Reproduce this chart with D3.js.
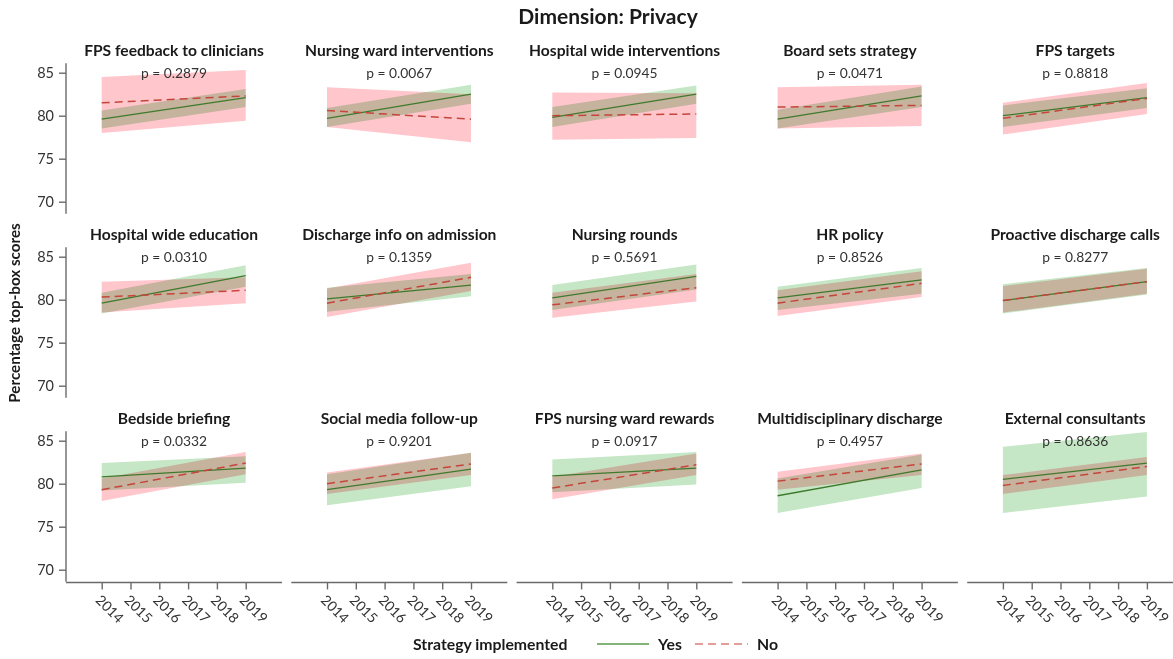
<!DOCTYPE html>
<html>
<head>
<meta charset="utf-8">
<script src="https://cdn.jsdelivr.net/npm/d3@7"></script>
<style>
  html, body { margin: 0; padding: 0; background: #fff; }
  svg { display: block; font-family: Lato, "Open Sans", sans-serif; }
  .band { mix-blend-mode: multiply; }
</style>
</head>
<body>
<svg id="chart" width="1173" height="659"></svg>
<script>
// Fitted trend (2014 -> 2019) of percentage top-box scores, Privacy dimension
const years = [2014, 2015, 2016, 2017, 2018, 2019];
const fitYears = [2014, 2019];
const yTicks = [70, 75, 80, 85];

const strategies = [
  "FPS feedback to clinicians", "Nursing ward interventions", "Hospital wide interventions",
  "Board sets strategy", "FPS targets",
  "Hospital wide education", "Discharge info on admission", "Nursing rounds",
  "HR policy", "Proactive discharge calls",
  "Bedside briefing", "Social media follow-up", "FPS nursing ward rewards",
  "Multidisciplinary discharge", "External consultants"
];
const pValues = ["0.2879", "0.0067", "0.0945", "0.0471", "0.8818",
                 "0.0310", "0.1359", "0.5691", "0.8526", "0.8277",
                 "0.0332", "0.9201", "0.0917", "0.4957", "0.8636"];

// Strategy implemented: Yes  (fit, lower and upper 95% bound at 2014 and 2019)
const yesFit = [[79.6,82.1],[79.7,82.5],[79.8,82.5],[79.6,82.3],[80.0,82.1],
                [79.6,82.8],[80.1,81.7],[80.2,82.7],[80.2,82.3],[79.9,82.1],
                [80.8,81.8],[79.3,81.7],[80.9,81.8],[78.6,81.6],[80.5,82.4]];
const yesLower = [[78.5,81.0],[78.7,81.4],[78.7,81.4],[78.5,81.0],[78.7,80.9],
                  [78.4,81.5],[78.6,80.4],[78.8,81.2],[78.8,80.7],[78.4,80.6],
                  [79.2,80.1],[77.5,79.7],[79.0,79.9],[76.6,79.5],[76.6,78.5]];
const yesUpper = [[80.6,83.1],[80.9,83.6],[81.0,83.5],[80.7,83.4],[81.2,83.2],
                  [80.8,84.0],[81.4,83.0],[81.7,84.1],[81.5,83.7],[81.8,83.7],
                  [82.4,83.2],[81.1,83.6],[82.8,83.7],[80.6,83.4],[84.3,86.0]];

// Strategy implemented: No
const noFit = [[81.5,82.3],[80.6,79.6],[80.0,80.2],[81.0,81.2],[79.7,82.0],
               [80.3,81.1],[79.6,82.6],[79.4,81.4],[79.6,81.9],[79.9,82.1],
               [79.3,82.4],[80.0,82.3],[79.5,82.2],[80.3,82.3],[79.8,82.0]];
const noLower = [[78.0,79.4],[78.7,76.9],[77.2,77.4],[78.5,78.8],[77.8,80.2],
                 [78.5,79.6],[78.0,81.0],[77.9,79.8],[78.1,80.3],[78.5,80.7],
                 [78.0,81.1],[78.8,81.0],[78.2,81.0],[79.3,81.0],[78.8,81.0]];
const noUpper = [[84.5,85.3],[83.3,82.5],[82.7,82.6],[83.3,83.6],[81.5,83.8],
                 [82.1,82.6],[81.3,84.3],[80.8,83.0],[81.1,83.3],[81.6,83.6],
                 [80.6,83.7],[81.3,83.6],[80.8,83.5],[81.4,83.5],[81.0,83.1]];

const nCols = 5, nRows = 3;
const colStep = 225.3, rowStep = 184;
const panelLeft = 66, panelWidth = 216;
const yearLeft = 35.7, yearRight = 179.7;
const topRow85 = 72.7, pxSpan = 129;

const colors = {
  yesLine: "#3f7a2c", yesBand: "#c6e7c6",
  noLine: "#c4463a", noBand: "#ffc6cc",
  axis: "#6a6a6a", text: "#1a1a1a", tick: "#333"
};

const svg = d3.select("#chart");

svg.append("text")
  .attr("x", 608).attr("y", 24)
  .attr("text-anchor", "middle")
  .attr("font-size", 21).attr("font-weight", 700).attr("fill", colors.text)
  .text("Dimension: Privacy");

svg.append("text")
  .attr("transform", "translate(20,313) rotate(-90)")
  .attr("text-anchor", "middle")
  .attr("font-size", 15.2).attr("font-weight", 700).attr("fill", colors.text)
  .text("Percentage top-box scores");

strategies.forEach((name, i) => {
  const c = i % nCols, r = Math.floor(i / nCols);
  const x0 = panelLeft + c * colStep;
  const y85 = topRow85 + r * rowStep;

  const x = d3.scaleLinear().domain([2014, 2019]).range([x0 + yearLeft, x0 + yearRight]);
  const y = d3.scaleLinear().domain([70, 85]).range([y85 + pxSpan, y85]);

  const g = svg.append("g");

  const area = d3.area().x(d => x(d.year)).y0(d => y(d.lo)).y1(d => y(d.hi));
  const line = d3.line().x(d => x(d.year)).y(d => y(d.v));

  const noBandData = fitYears.map((yr, k) => ({ year: yr, lo: noLower[i][k], hi: noUpper[i][k] }));
  const yesBandData = fitYears.map((yr, k) => ({ year: yr, lo: yesLower[i][k], hi: yesUpper[i][k] }));

  g.append("path").attr("class", "band").attr("d", area(noBandData)).attr("fill", colors.noBand);
  g.append("path").attr("class", "band").attr("d", area(yesBandData)).attr("fill", colors.yesBand);

  g.append("path")
    .attr("d", line(fitYears.map((yr, k) => ({ year: yr, v: yesFit[i][k] }))))
    .attr("fill", "none").attr("stroke", colors.yesLine).attr("stroke-width", 1.3);
  g.append("path")
    .attr("d", line(fitYears.map((yr, k) => ({ year: yr, v: noFit[i][k] }))))
    .attr("fill", "none").attr("stroke", colors.noLine).attr("stroke-width", 1.5)
    .attr("stroke-dasharray", "8,5");

  // panel title and p-value
  g.append("text")
    .attr("x", x0 + panelWidth / 2).attr("y", y85 - 17)
    .attr("text-anchor", "middle")
    .attr("font-size", 15.6).attr("font-weight", 700).attr("fill", colors.text)
    .text(name);
  g.append("text")
    .attr("x", x0 + panelWidth / 2).attr("y", y85 + 5)
    .attr("text-anchor", "middle")
    .attr("font-size", 13.8).attr("fill", colors.tick)
    .text("p = " + pValues[i]);

  // y axis on first column
  if (c === 0) {
    const yAxis = g.append("g").attr("transform", `translate(${x0},0)`)
      .call(d3.axisLeft(y).tickValues(yTicks).tickSize(7).tickPadding(5));
    yAxis.select(".domain").attr("d", `M0,${y(86.1)}V${y(68.6)}`);
    yAxis.selectAll(".domain, .tick line").attr("stroke", colors.axis).attr("stroke-width", 1.4);
    yAxis.selectAll(".tick text").attr("font-size", 14.5).attr("fill", colors.tick)
      .attr("font-family", "Lato, sans-serif");
  }

  // x axis on bottom row
  if (r === nRows - 1) {
    const base = y(68.6) + 0.7;
    const xAxis = g.append("g").attr("transform", `translate(0,${base})`)
      .call(d3.axisBottom(x).tickValues(years).tickFormat(d3.format("d")).tickSize(7));
    xAxis.select(".domain").attr("d", `M${x0},0H${x0 + panelWidth}`);
    xAxis.selectAll(".domain, .tick line").attr("stroke", colors.axis).attr("stroke-width", 1.4);
    xAxis.selectAll(".tick text")
      .attr("font-size", 14).attr("fill", colors.tick).attr("font-family", "Lato, sans-serif")
      .attr("text-anchor", "start")
      .attr("y", 0).attr("dy", "0.35em")
      .attr("transform", "translate(-4,15) rotate(45)");
  }
});

// legend
const lg = svg.append("g").attr("transform", "translate(0,644)");
lg.append("text").attr("x", 413).attr("y", 5.5)
  .attr("font-size", 15.8).attr("font-weight", 700).attr("fill", colors.text)
  .text("Strategy implemented");
lg.append("line").attr("x1", 597).attr("x2", 649).attr("y1", 0).attr("y2", 0)
  .attr("stroke", "#5a9a4a").attr("stroke-width", 1.3);
lg.append("text").attr("x", 658).attr("y", 5.5)
  .attr("font-size", 15.8).attr("font-weight", 700).attr("fill", colors.text).text("Yes");
lg.append("line").attr("x1", 695).attr("x2", 748).attr("y1", 0).attr("y2", 0)
  .attr("stroke", "#d9807a").attr("stroke-width", 1.4).attr("stroke-dasharray", "8,5");
lg.append("text").attr("x", 757).attr("y", 5.5)
  .attr("font-size", 15.8).attr("font-weight", 700).attr("fill", colors.text).text("No");
</script>
</body>
</html>
